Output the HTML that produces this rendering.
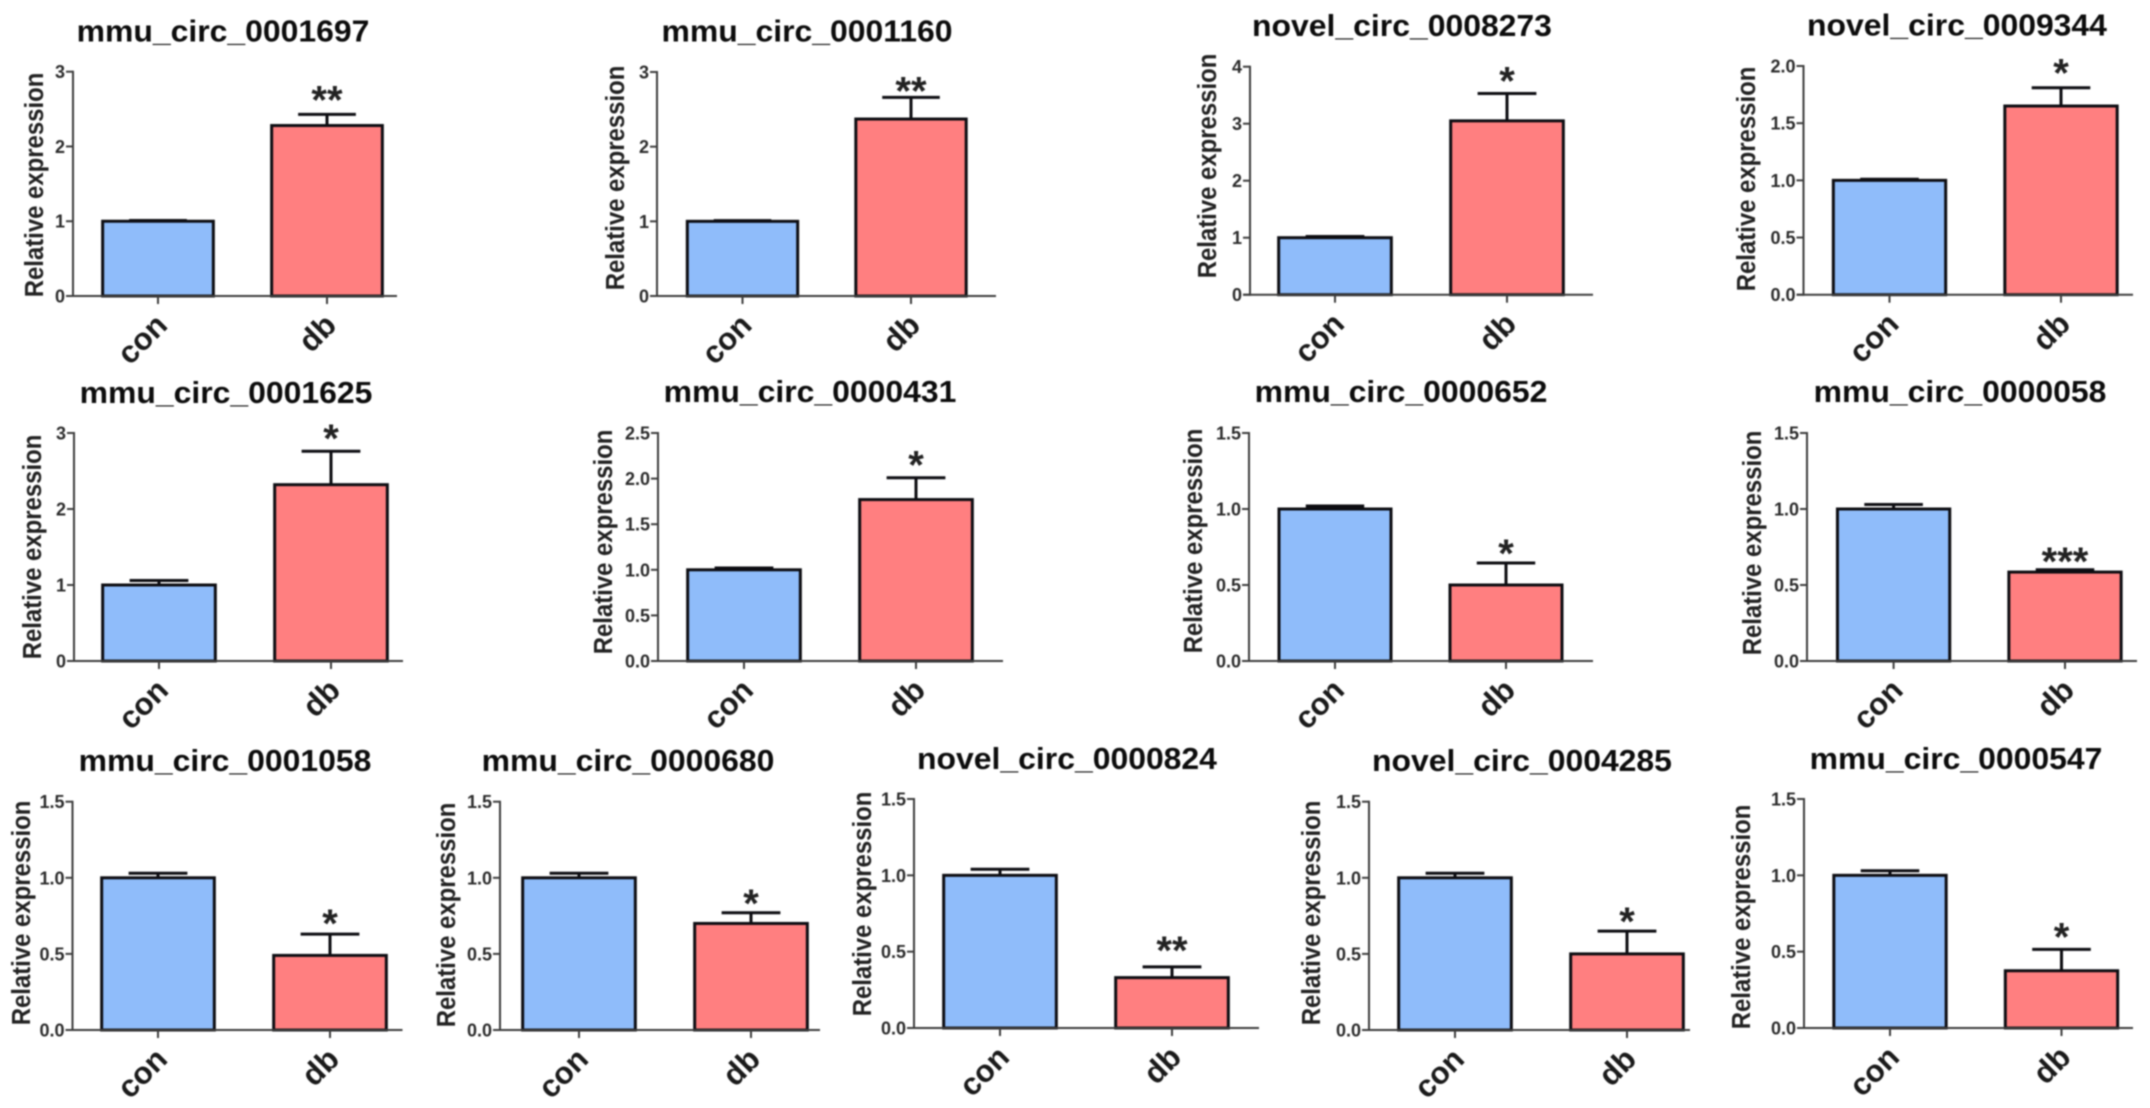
<!DOCTYPE html>
<html lang="en">
<head>
<meta charset="utf-8">
<title>Relative expression of circRNAs</title>
<style>
html,body{margin:0;padding:0;background:#fff;width:2150px;height:1108px;overflow:hidden}
#figure{display:block;filter:blur(0.8px)}
text{font-family:"Liberation Sans",Arial,sans-serif;font-weight:bold}
</style>
</head>
<body>
<svg id="figure" xmlns="http://www.w3.org/2000/svg" width="2150" height="1108" viewBox="0 0 2150 1108"></svg>
<script>
const categories = ['con', 'db'];
const panelTitles = ['mmu_circ_0001697','mmu_circ_0001160','novel_circ_0008273','novel_circ_0009344','mmu_circ_0001625','mmu_circ_0000431','mmu_circ_0000652','mmu_circ_0000058','mmu_circ_0001058','mmu_circ_0000680','novel_circ_0000824','novel_circ_0004285','mmu_circ_0000547'];
const conMeans = [1,1,1,1,1,1,1,1,1,1,1,1,1];
const conErrors = [0.01,0.01,0.02,0.01,0.06,0.02,0.02,0.03,0.03,0.03,0.04,0.03,0.03];
const dbMeans = [2.28,2.37,3.05,1.65,2.32,1.77,0.5,0.585,0.49,0.70,0.33,0.5,0.375];
const dbErrors = [0.15,0.29,0.48,0.16,0.44,0.24,0.145,0.015,0.14,0.07,0.07,0.15,0.14];
const significance = ['**','**','*','*','*','*','*','***','*','*','**','*','*'];
const yMaxes = [3,3,4,2,3,2.5,1.5,1.5,1.5,1.5,1.5,1.5,1.5];
const yTickLabels = [
  ['0','1','2','3'],
  ['0','1','2','3'],
  ['0','1','2','3','4'],
  ['0.0','0.5','1.0','1.5','2.0'],
  ['0','1','2','3'],
  ['0.0','0.5','1.0','1.5','2.0','2.5'],
  ['0.0','0.5','1.0','1.5'],
  ['0.0','0.5','1.0','1.5'],
  ['0.0','0.5','1.0','1.5'],
  ['0.0','0.5','1.0','1.5'],
  ['0.0','0.5','1.0','1.5'],
  ['0.0','0.5','1.0','1.5'],
  ['0.0','0.5','1.0','1.5']
];
const yAxisTitle = 'Relative expression';

/* Panel frames (layout only, no data values) */
const panelFrames = [
  {axis:73,  top:71.7, bot:296,  end:397,  c1:158,  c2:327,  tx:223,  tb:41.5, lx:43,   ly:185, gap:23},
  {axis:657, top:72,   bot:296,  end:996,  c1:742.5,c2:911,  tx:807,  tb:41.5, lx:624,  ly:178, gap:15},
  {axis:1250,top:66.7, bot:294.7,end:1593, c1:1335, c2:1507, tx:1402, tb:36,   lx:1216, ly:166, gap:21},
  {axis:1803.5,top:66, bot:294.7,end:2133, c1:1889.5,c2:2061,tx:1957, tb:35.5, lx:1755, ly:179, gap:23},
  {axis:74,  top:433,  bot:661,  end:403,  c1:159,  c2:331,  tx:226,  tb:403,  lx:41,   ly:547, gap:21},
  {axis:658, top:433,  bot:661,  end:1003, c1:744,  c2:916,  tx:810,  tb:402,  lx:612,  ly:542, gap:21},
  {axis:1249,top:433,  bot:661,  end:1593, c1:1335, c2:1506, tx:1401, tb:402,  lx:1202, ly:541, gap:18},
  {axis:1807,top:433,  bot:661,  end:2137, c1:1893.6,c2:2065,tx:1960, tb:402,  lx:1761, ly:543, gap:17},
  {axis:72.5,top:801.7,bot:1030, end:402.5,c1:158,  c2:330,  tx:225,  tb:771,  lx:30,   ly:913, gap:19},
  {axis:500, top:801.7,bot:1030, end:820,  c1:579,  c2:751,  tx:628,  tb:771,  lx:455,  ly:915, gap:18},
  {axis:914, top:799,  bot:1028, end:1259, c1:1000, c2:1172, tx:1067, tb:769,  lx:871,  ly:904, gap:25},
  {axis:1369,top:801.7,bot:1030, end:1690, c1:1455, c2:1627, tx:1522, tb:771,  lx:1320, ly:913, gap:18},
  {axis:1804,top:799,  bot:1028, end:2133, c1:1890, c2:2061.5,tx:1956,tb:769,  lx:1750, ly:917, gap:21}
];

const SVG_NS = 'http://www.w3.org/2000/svg';
const AXIS_COLOR = '#3d3d3d';
const BAR_STROKE = '#0d0d12';
const BAR_FILLS = ['#8FBCFA', '#FF7F80'];

function make(parent, tag, props, text) {
  const node = document.createElementNS(SVG_NS, tag);
  Object.keys(props).forEach(function (k) { node.setAttribute(k, props[k]); });
  if (text !== undefined) node.textContent = text;
  parent.appendChild(node);
  return node;
}

const root = document.getElementById('figure');

panelTitles.forEach(function (title, p) {
  const f = panelFrames[p];
  const yScale = function (v) { return f.bot - (v / yMaxes[p]) * (f.bot - f.top); };
  const xCenter = function (i) { return f.c1 + i * (f.c2 - f.c1) / (categories.length - 1); };
  const barWidth = 0.655 * (f.c2 - f.c1);
  const capWidth = 0.335 * (f.c2 - f.c1);
  const means = [conMeans[p], dbMeans[p]];
  const errors = [conErrors[p], dbErrors[p]];

  const g = make(root, 'g', {});
  
  

  const titleEl = make(g, 'text', {transform: 'translate(' + f.tx + ',' + f.tb + ') scale(1.03,1)', 'text-anchor': 'middle', 'font-size': 31, fill: '#0c0c0c'}, title);
  
  

  const yTitleEl = make(g, 'text', {transform: 'translate(' + f.lx + ',' + f.ly + ') rotate(-90) scale(0.92,1)', 'text-anchor': 'middle', 'font-size': 26, fill: '#222'}, yAxisTitle);
  
  

  categories.forEach(function (cat, i) {
    const cx = xCenter(i);
    const yTop = yScale(means[i]);
    const yErr = yScale(means[i] + errors[i]);

    const stem = make(g, 'line', {x1: cx, x2: cx, y1: yTop, y2: yErr, stroke: BAR_STROKE, 'stroke-width': 3});
    
    

    const cap = make(g, 'line', {x1: cx - capWidth / 2 * 1.02, x2: cx + capWidth / 2 * 1.02, y1: yErr, y2: yErr, stroke: BAR_STROKE, 'stroke-width': 3});
    
    

    const bar = make(g, 'rect', {x: cx - barWidth / 2, y: yTop, width: barWidth, height: f.bot - yTop, fill: BAR_FILLS[i], stroke: BAR_STROKE, 'stroke-width': 3});
    
    

    const xTick = make(g, 'line', {x1: cx, x2: cx, y1: f.bot, y2: f.bot + 8, stroke: AXIS_COLOR, 'stroke-width': 2});
    
    

    const xLabel = make(g, 'text', {transform: 'translate(' + (cx + 11) + ',' + (f.bot + 31) + ') rotate(-45)', 'text-anchor': 'end', 'font-size': 31, fill: '#1a1a1a'}, cat);
    
    
  });

  const yAxis = make(g, 'line', {x1: f.axis, x2: f.axis, y1: f.top - 1, y2: f.bot + 1, stroke: AXIS_COLOR, 'stroke-width': 2});
  
  

  const xAxis = make(g, 'line', {x1: f.axis - 7, x2: f.end, y1: f.bot, y2: f.bot, stroke: AXIS_COLOR, 'stroke-width': 2});
  
  

  yTickLabels[p].forEach(function (label) {
    const ty = yScale(parseFloat(label));
    const yTick = make(g, 'line', {x1: f.axis - 7, x2: f.axis, y1: ty, y2: ty, stroke: AXIS_COLOR, 'stroke-width': 2});
    
    

    const yLabel = make(g, 'text', {x: f.axis - 8, y: ty + 6.5, 'text-anchor': 'end', 'font-size': 18, fill: '#2b2b2b'}, label);
    
    
  });

  const sigCenterY = yScale(dbMeans[p] + dbErrors[p]) - f.gap;
  const sig = make(g, 'text', {x: xCenter(1), y: sigCenterY + 22, 'text-anchor': 'middle', 'font-size': 40, fill: '#222'}, significance[p]);
  
  
});
</script>
</body>
</html>
